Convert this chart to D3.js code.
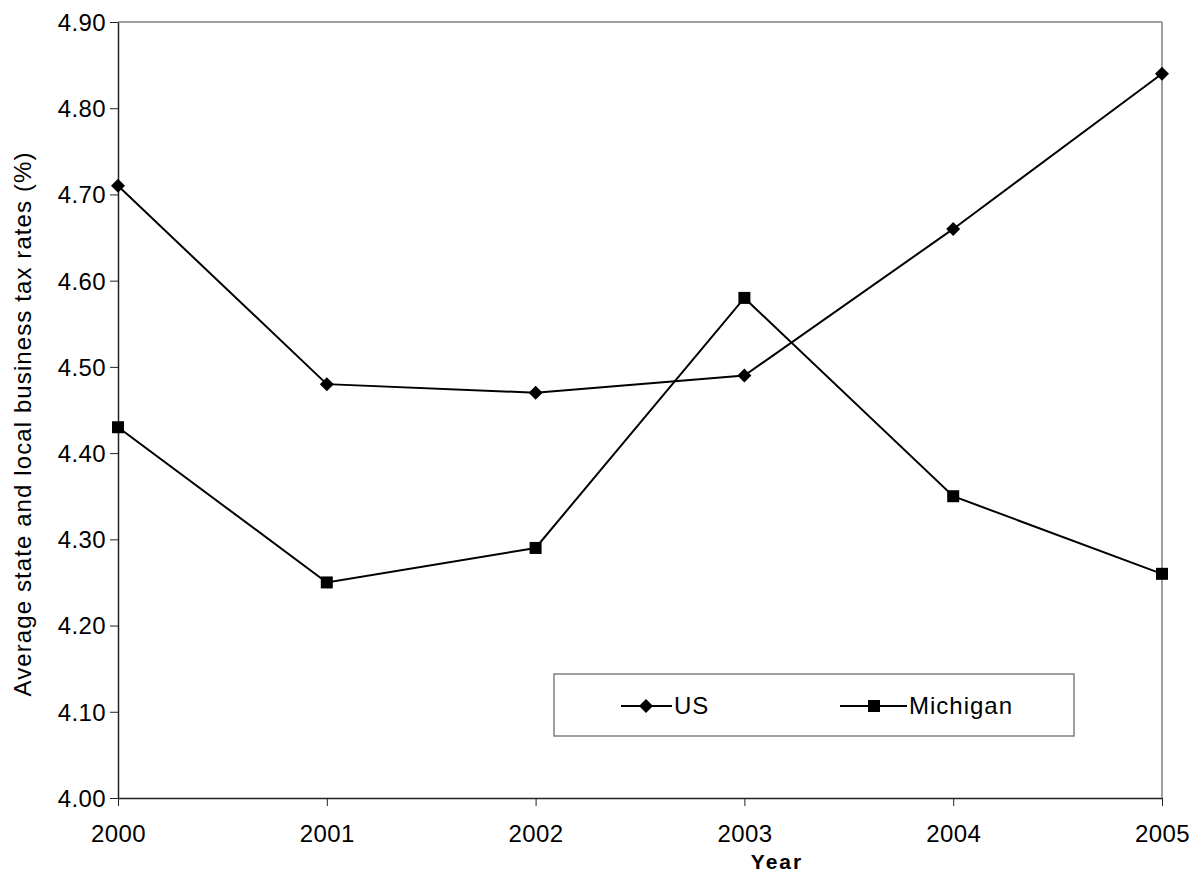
<!DOCTYPE html>
<html><head><meta charset="utf-8">
<script src="https://cdn.jsdelivr.net/npm/d3@7"></script>
<style>body{margin:0;background:#fff}</style>
</head><body>
<svg id="c" width="1199" height="893"></svg>
<script>
const years = [2000, 2001, 2002, 2003, 2004, 2005];
const usValues = [4.71, 4.48, 4.47, 4.49, 4.66, 4.84];
const michiganValues = [4.43, 4.25, 4.29, 4.58, 4.35, 4.26];
const yTicks = [4.00, 4.10, 4.20, 4.30, 4.40, 4.50, 4.60, 4.70, 4.80, 4.90];
const seriesNames = ["US", "Michigan"];

const svg = d3.select("#c");
const L = 118, R = 1162, T = 22, B = 798;
const font = "Liberation Sans, Arial, sans-serif";
const x = d3.scalePoint().domain(years).range([L, R]);
const y = d3.scaleLinear().domain([4.0, 4.9]).range([B, T]);

// plot border top/right gray
svg.append("line").attr("x1", L).attr("x2", R).attr("y1", T).attr("y2", T).attr("stroke", "#808080").attr("stroke-width", 1.5);
svg.append("line").attr("x1", R).attr("x2", R).attr("y1", T).attr("y2", B).attr("stroke", "#808080").attr("stroke-width", 1.5);

const yAxis = svg.append("g").attr("transform", `translate(${L},0)`)
  .call(d3.axisLeft(y).tickValues(yTicks).tickFormat(d3.format(".2f")).tickSize(8).tickSizeOuter(0));
const xAxis = svg.append("g").attr("transform", `translate(0,${B})`)
  .call(d3.axisBottom(x).tickSize(8).tickSizeOuter(0));
[yAxis, xAxis].forEach(g => {
  g.attr("font-size", null).attr("font-family", null);
  g.select(".domain").attr("stroke", "#222").attr("stroke-width", 1.5);
  g.selectAll(".tick line").attr("stroke", "#222").attr("stroke-width", 1);
  g.selectAll("text").style("font-family", font).style("font-size", "24px").style("letter-spacing", "0.4px").attr("fill", "#000");
});
yAxis.selectAll("text").attr("x", -12).attr("dy", "0.35em");
xAxis.selectAll("text").attr("y", 44).attr("dy", "0");

const line = d3.line().x((d, i) => x(years[i])).y(d => y(d));
function drawSeries(vals, kind) {
  svg.append("path").datum(vals).attr("d", line).attr("fill", "none").attr("stroke", "#000").attr("stroke-width", 2);
  vals.forEach((v, i) => {
    if (kind === "diamond") {
      svg.append("path").attr("d", d3.symbol().type(d3.symbolSquare).size(98)()).attr("transform", `translate(${x(years[i])},${y(v)}) rotate(45)`).attr("fill", "#000");
    } else {
      svg.append("rect").attr("x", x(years[i]) - 6).attr("y", y(v) - 6).attr("width", 12).attr("height", 12).attr("fill", "#000");
    }
  });
}
drawSeries(usValues, "diamond");
drawSeries(michiganValues, "square");

// legend
svg.append("rect").attr("x", 554).attr("y", 674).attr("width", 520).attr("height", 62).attr("fill", "#fff").attr("stroke", "#808080").attr("stroke-width", 1.5);
const ly = 706;
svg.append("line").attr("x1", 621).attr("x2", 672).attr("y1", ly).attr("y2", ly).attr("stroke", "#000").attr("stroke-width", 2);
svg.append("path").attr("d", d3.symbol().type(d3.symbolSquare).size(98)()).attr("transform", `translate(646,${ly}) rotate(45)`).attr("fill", "#000");
svg.append("text").attr("x", 674).attr("y", ly).attr("dy", "0.35em").style("font-family", font).style("font-size", "24px").style("letter-spacing", "1px").text(seriesNames[0]);
svg.append("line").attr("x1", 840).attr("x2", 907).attr("y1", ly).attr("y2", ly).attr("stroke", "#000").attr("stroke-width", 2);
svg.append("rect").attr("x", 868).attr("y", ly - 6).attr("width", 12).attr("height", 12).attr("fill", "#000");
svg.append("text").attr("x", 909).attr("y", ly).attr("dy", "0.35em").style("font-family", font).style("font-size", "24px").style("letter-spacing", "1px").text(seriesNames[1]);

// axis titles
svg.append("text").attr("x", 777).attr("y", 869).attr("text-anchor", "middle").style("font-family", font).style("font-size", "21px").attr("font-weight", "bold").style("letter-spacing", "2px").text("Year");
svg.append("text").attr("transform", "translate(31,424) rotate(-90)").attr("text-anchor", "middle").style("font-family", font).style("font-size", "24px").style("letter-spacing", "1.1px").text("Average state and local business tax rates (%)");
</script>
</body></html>
